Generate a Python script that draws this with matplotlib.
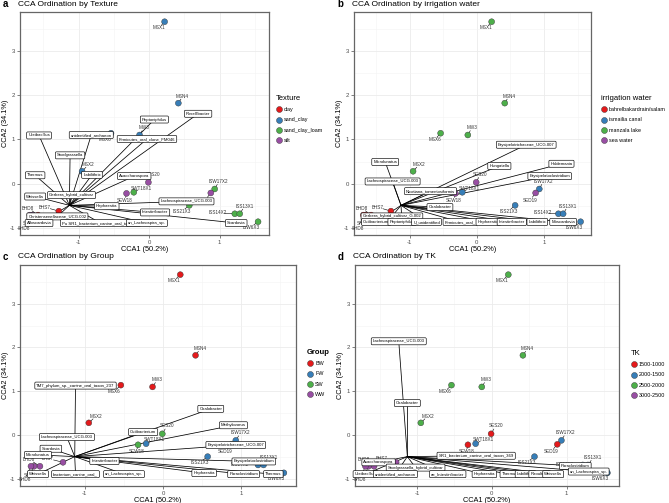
import numpy as np
import matplotlib.pyplot as plt
from matplotlib.lines import Line2D

plt.rcParams['font.family'] = ['Liberation Sans', 'DejaVu Sans']
plt.rcParams['axes.unicode_minus'] = False

# sample scores (shared by all panels)
samples = ['MSX1', 'MSN4', 'MW3', 'MSX6', 'MSX2', 'SES20', 'SWT18X1', 'SEW18',
           'ISW17X2', 'SED19', 'ISS21X3', 'ISS14X2', 'ISS13X1', 'ISW6X3',
           'BHS7', 'BHD8', 'SHS7', 'SHD8']
cca1 = [0.22, 0.415, -0.135, -0.54, -0.95, -0.01, -0.217, -0.32,
        0.93, 0.875, 0.57, 1.215, 1.285, 1.545,
        -1.28, -1.575, -1.65, -1.69]
cca2 = [3.66, 1.82, 1.10, 1.14, 0.28, 0.03, -0.195, -0.22,
        -0.12, -0.21, -0.49, -0.68, -0.68, -0.86,
        -0.62, -0.71, -0.71, -0.71]
lab_dx = [-0.08, 0.06, 0.06, -0.09, 0.09, 0.06, 0.1, -0.02,
          0.06, -0.08, -0.1, -0.24, 0.07, -0.1,
          -0.2, -0.14, -0.05, -0.08]
lab_dy = [-0.14, 0.15, 0.16, -0.15, 0.15, 0.18, 0.09, -0.15,
          0.17, -0.16, -0.13, 0.02, 0.17, -0.12,
          0.09, 0.16, -0.2, -0.3]

texture_levels = ['clay', 'sand_clay', 'sand_clay_loam', 'silt']
texture = [1, 1, 1, 1, 1, 3, 2, 3, 2, 3, 2, 2, 2, 2, 0, 0, 3, 3]
water_levels = ['bahrelbakardrain/salam', 'ismailia canal', 'manzala lake', 'sea water']
water = [2, 2, 2, 2, 2, 3, 1, 3, 1, 3, 1, 1, 1, 1, 0, 0, 0, 0]
group_levels = ['BW', 'FW', 'SW', 'WW']
group = [0, 0, 0, 0, 0, 2, 1, 2, 1, 2, 1, 1, 1, 1, 3, 3, 3, 3]
tk_levels = ['1500-1000', '2000-1500', '2500-2000', '3000-2500']
tk = [2, 2, 2, 2, 2, 0, 1, 0, 1, 0, 1, 1, 1, 1, 3, 3, 3, 3]

# taxa (biplot tips) per panel
taxa_a = ['Rosellibacter', 'Peptoniphilus', 'Firmicutes_oral_clone_FM046', 'unidentified_archaeon',
          'Ureibacillus', 'Snodgrassella', 'Thermus', 'Labilithrix', 'Asaccharospora',
          'Gerbera_hybrid_cultivar', 'Weissella', 'Hephaestia', 'Lachnospiraceae_UCG.003',
          'Intestinibacter', 'Christensenellaceae_UCG.002', 'Alloscardovia',
          'Pu SR1_bacterium_canine_oral_taxon_3', 'un_Lachnospira_sp.', 'Scardovia']
tx_a = [0.695, 0.075, -0.03, -0.82, -1.56, -1.12, -1.615, -0.81, -0.21,
        -1.1, -1.615, -0.6, 0.53, 0.085, -1.3, -1.56, -0.69, -0.03, 1.235]
ty_a = [1.58, 1.45, 1.01, 1.10, 1.09, 0.64, 0.19, 0.20, 0.17,
        -0.26, -0.29, -0.51, -0.40, -0.65, -0.74, -0.89, -0.89, -0.89, -0.89]

taxa_b = ['Erysipelotrichaceae_UCG.007', 'Microlunatus', 'Holdemania', 'Hungatella',
          'Erysipelatoclostridium', 'Lachnospiraceae_UCG.003', 'Nicotiana_tomentosiformis',
          'Oxalobacter', 'Gerbera_hybrid_cultivar_G.002', 'Cutibacterium', 'Peptoniphilus',
          'U_unidentified', 'Firmicutes_oral_', 'Hephaestia', 'Intestinibacter',
          'Labilithrix', 'Moscardovia']
tx_b = [0.735, -1.365, 1.26, 0.335, 1.085, -1.255, -0.69, -0.55, -1.265,
        -1.5, -1.115, -0.75, -0.25, 0.17, 0.52, 0.9, 1.285]
ty_b = [0.88, 0.49, 0.45, 0.40, 0.17, 0.05, -0.17, -0.53, -0.74,
        -0.865, -0.865, -0.865, -0.865, -0.865, -0.865, -0.865, -0.865]

taxa_c = ['TM7_phylum_sp._canine_oral_taxon_237', 'Oxalobacter', 'Methylovorus', 'Cutibacterium',
          'Lachnospiraceae_UCG.003', 'Erysipelotrichaceae_UCG.007', 'Scardovia', 'Microlunatus',
          'Intestinibacter', 'Erysipelatoclostridium', 'Weissella', 'bacterium_canine_oral_',
          'un_Lachnospira_sp.', 'Hephaestia', 'Paraclostridium', 'Thermus']
tx_c = [-1.12, 0.61, 0.90, -0.255, -1.23, 0.93, -1.435, -1.6, -0.75, 1.16,
        -1.6, -1.12, -0.5, 0.525, 1.03, 1.41]
ty_c = [1.13, 0.60, 0.225, 0.07, -0.045, -0.225, -0.31, -0.45, -0.59, -0.60,
        -0.89, -0.89, -0.89, -0.865, -0.89, -0.89]

taxa_d = ['Lachnospiraceae_UCG.003', 'Oxalobacter', 'SR1_bacterium_canine_oral_taxon_369',
          'Asaccharospora', 'Snodgrassella_hybrid_cultivar', 'Ureibacillus', 'unidentified_archaeon',
          'ae_Intestinibacter', 'Hephaestia', 'Thermus', 'Labilithrix', 'Raoultella', 'Weissella',
          'Paraclostridium', 'un_Lachnospira_sp.']
tx_d = [-1.245, -1.13, -0.21, -1.515, -1.02, -1.69, -1.29, -0.59, -0.1, 0.24, 0.45,
        0.64, 0.82, 1.115, 1.295]
ty_d = [2.14, 0.73, -0.47, -0.62, -0.74, -0.89, -0.89, -0.89, -0.89, -0.89, -0.89,
        -0.89, -0.89, -0.70, -0.83]

palette = ['#E41A1C', '#377EB8', '#4DAF4A', '#984EA3']
centre = (-1.13, -0.49)

W, H = 669, 503
fig = plt.figure(figsize=(W / 100, H / 100), dpi=100)


def px_axes(l, r, t, b):
    return fig.add_axes([l / W, 1 - b / H, (r - l) / W, (b - t) / H])


def draw_panel(ax, box, letter, title, codes, levels, leg_title, names, tx, ty, leg_xy, bold_title=False):
    l, r, t, b = box
    ax.set_xlim(-1.83, 1.70)
    ax.set_ylim(-1.16, 3.88)
    ax.set_xticks([-1, 0, 1])
    ax.set_yticks([-1, 0, 1, 2, 3])
    ax.set_xticks([-1.5, -0.5, 0.5, 1.5], minor=True)
    ax.set_yticks([-0.5, 0.5, 1.5, 2.5, 3.5], minor=True)
    ax.grid(which='major', color='#EBEBEB', lw=0.6)
    ax.grid(which='minor', color='#F3F3F3', lw=0.4)
    ax.set_axisbelow(True)
    ax.tick_params(which='major', labelsize=4.3, colors='#4D4D4D', length=2, width=0.5, pad=1.5)
    ax.tick_params(which='minor', length=0)
    for s in ax.spines.values():
        s.set_color('#666666')
        s.set_linewidth(0.9)
    ax.set_xlabel('CCA1 (50.2%)', fontsize=5.3)
    ax.set_ylabel('CCA2 (34.1%)', fontsize=5.3)
    ax.xaxis.set_label_coords(0.5, -10.5 / (b - t))
    ax.yaxis.set_label_coords(-11.0 / (r - l), 0.5)
    fig.text((l - 17) / W, 1 - (t - 8) / H, letter, fontsize=7, fontweight='bold', va='center')
    fig.text((l - 2) / W, 1 - (t - 8) / H, title, fontsize=6, va='center')

    # biplot segments
    for x, y in zip(tx, ty):
        ax.plot([centre[0], x], [centre[1], y], color='black', lw=0.55, zorder=2)

    # samples
    cols = [palette[c] for c in codes]
    for x, y, dx, dy in zip(cca1, cca2, lab_dx, lab_dy):
        ax.plot([x, x + dx * 0.6], [y, y + dy * 0.6], color='black', lw=0.4, zorder=3)
    ax.scatter(cca1, cca2, c=cols, s=18, edgecolors='#333333', linewidths=0.3, zorder=4)
    for name, x, y, dx, dy in zip(samples, cca1, cca2, lab_dx, lab_dy):
        ax.text(x + dx, y + dy, name, fontsize=3.3, color='#333333', ha='center', va='center', zorder=5)

    # taxa labels
    for name, x, y in zip(names, tx, ty):
        ax.text(x, y, name, fontsize=3.1, ha='center', va='center', zorder=6,
                bbox=dict(boxstyle='round,pad=0.35,rounding_size=0.25', fc='white', ec='black', lw=0.45))

    handles = [Line2D([], [], marker='o', ls='', markersize=4.3, markerfacecolor=p,
                      markeredgecolor='#333333', markeredgewidth=0.3) for p in palette]
    leg = ax.legend(handles, levels, title=leg_title, loc='upper left',
                    bbox_to_anchor=(leg_xy[0] / W, 1 - leg_xy[1] / H), bbox_transform=fig.transFigure,
                    frameon=False, fontsize=3.9, title_fontsize=5.5, alignment='left',
                    handletextpad=0.45, labelspacing=0.95, handlelength=1.0, borderaxespad=0)
    if bold_title:
        leg.get_title().set_fontweight('bold')


box_a = (20, 269, 12, 235)
draw_panel(px_axes(*box_a), box_a, 'a', 'CCA Ordination by Texture', texture, texture_levels, 'Texture',
           taxa_a, tx_a, ty_a, (274, 93))
box_b = (354, 591, 12, 235)
draw_panel(px_axes(*box_b), box_b, 'b', 'CCA Ordination by irrigation water', water, water_levels,
           'irrigation water', taxa_b, tx_b, ty_b, (599, 93))
box_c = (20, 296, 265, 486)
draw_panel(px_axes(*box_c), box_c, 'c', 'CCA Ordination by Group', group, group_levels, 'Group',
           taxa_c, tx_c, ty_c, (305, 347), bold_title=True)
box_d = (355, 619, 265, 486)
draw_panel(px_axes(*box_d), box_d, 'd', 'CCA Ordination by TK', tk, tk_levels, 'TK',
           taxa_d, tx_d, ty_d, (629, 348))

fig.savefig('out.png', dpi=100)
